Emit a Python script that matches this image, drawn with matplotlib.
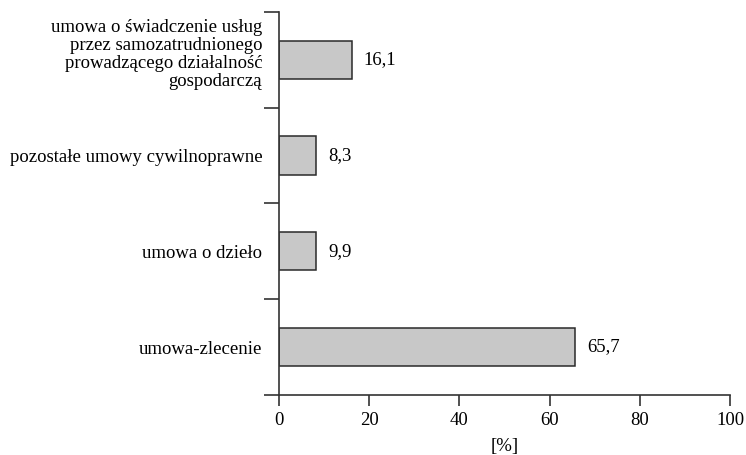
import matplotlib
matplotlib.use("Agg")
import matplotlib.pyplot as plt
import matplotlib.transforms as mtransforms
import numpy as np

# categories from bottom to top
categories = ['umowa-zlecenie',
              'umowa o dzieło',
              'pozostałe umowy cywilnoprawne',
              'umowa o świadczenie usług\nprzez samozatrudnionego\nprowadzącego działalność\ngospodarczą']
shares = [65.7, 9.9, 8.3, 16.1]
# bar lengths as drawn in the source (the 9,9 bar is drawn as short as the 8,3 one)
bar_len = [65.7, 8.3, 8.3, 16.1]

plt.rcParams['font.family'] = ['Liberation Serif', 'DejaVu Serif']

fig = plt.figure(figsize=(7.46, 4.55), dpi=100)
ax = fig.add_axes([0.374, 0.132, 0.6046, 0.8416])

y = np.arange(len(categories))
ax.barh(y, bar_len, height=0.4, color='#c8c8c8', edgecolor='#2a2a2a', linewidth=1.1)

for yi, v, s in zip(y, bar_len, shares):
    ax.annotate(f'{s:.1f}'.replace('.', ','), (v, yi), xytext=(8.5, 0),
                textcoords='offset points', va='center', ha='left', fontsize=13.5)

ax.set_xlim(0, 100)
ax.set_ylim(-0.5, len(categories) - 0.5)
ax.set_xticks(np.arange(0, 101, 20))
ax.tick_params(axis='x', labelsize=13.5, length=8, width=1.2, direction='out', pad=4)

ax.set_yticks(np.arange(-0.5, len(categories), 1.0))
ax.set_yticklabels([])
ax.tick_params(axis='y', which='major', length=11, width=1.2, direction='out')
ax.set_yticks(y, minor=True)
ax.set_yticklabels(categories, minor=True, fontsize=13.5, linespacing=1.08)
ax.tick_params(axis='y', which='minor', length=0, pad=12)

# the long top label sits a little higher than its bar in the source
top_lab = ax.get_yticklabels(minor=True)[-1]
top_lab.set_transform(top_lab.get_transform() +
                      mtransforms.ScaledTranslation(0, 6 / 72, fig.dpi_scale_trans))

for side in ['top', 'right']:
    ax.spines[side].set_visible(False)
for side in ['left', 'bottom']:
    ax.spines[side].set_linewidth(1.2)
    ax.spines[side].set_color('#333333')
ax.tick_params(colors='#333333', labelcolor='black')

ax.set_xlabel('[%]', fontsize=13.5, labelpad=7)

fig.savefig('out.png', dpi=100)
